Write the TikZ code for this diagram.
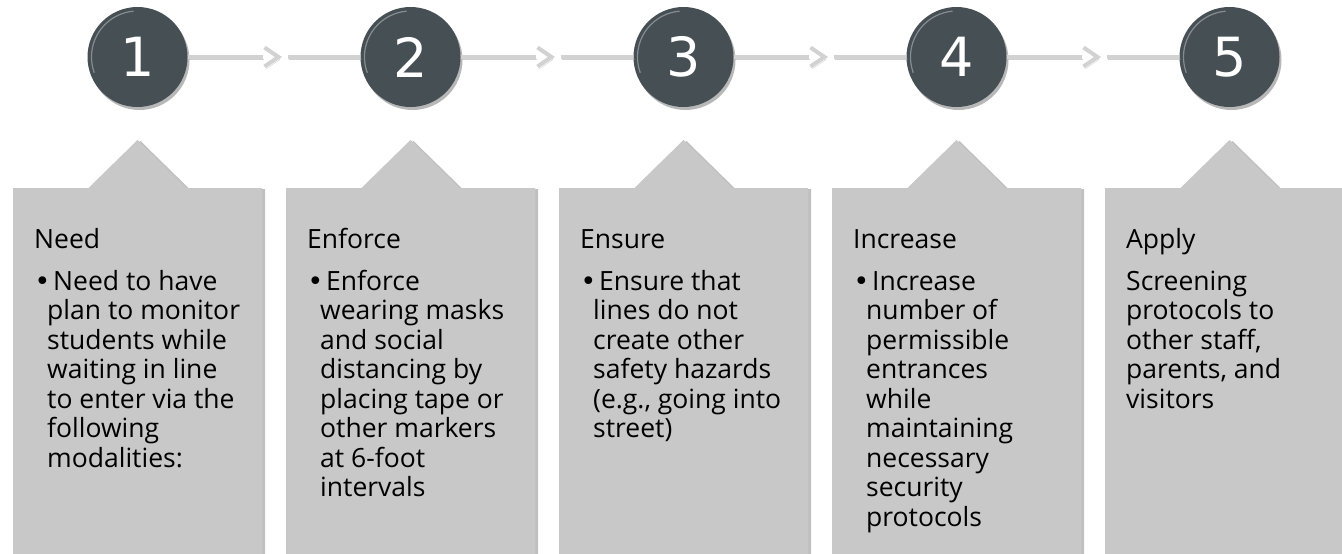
\documentclass[tikz,border=0pt]{standalone}
\usepackage{fontspec}
\setmainfont{Open Sans}
\newfontfamily\digitfont{DejaVu Sans}
\usetikzlibrary{shadows,calc}
\definecolor{boxgray}{RGB}{200,200,200}
\definecolor{circfill}{RGB}{70,79,84}
\definecolor{linegray}{RGB}{210,210,210}
\tikzset{
  callout/.style={fill=boxgray, drop shadow={shadow xshift=3pt, shadow yshift=-1pt, opacity=0.35, fill=black!70}},
  stepcirc/.style={circle, minimum size=100pt, inner sep=0pt, fill=circfill, text=white,
     font=\digitfont\fontsize{54}{60}\selectfont,
     drop shadow={shadow xshift=2pt, shadow yshift=-3pt, opacity=0.35, fill=black!80}},
  conn/.style={line width=4pt, draw=linegray,
     preaction={draw=black!40, opacity=0.45, transform canvas={shift={(1.5pt,-2.5pt)}}}},
  headtext/.style={anchor=base west, inner sep=0pt, text=black, font=\fontsize{26.5}{29.5}\selectfont},
  bodytext/.style={anchor=north west, inner sep=0pt, align=left, text=black, font=\fontsize{26.5}{29.5}\selectfont},
  gloss/.style={draw=white, opacity=0.35, line width=1.2pt}
}
\newcommand{\bul}{\hspace*{6pt}\llap{{\digitfont\textbullet}\hspace{3pt}}}
\begin{document}
\begin{tikzpicture}[x=1pt,y=-1pt]
\useasboundingbox (0,0) rectangle (1342,554);
\clip (0,0) rectangle (1342,554);
\fill[white] (0,0) rectangle (1342,554);

% callout boxes
\foreach \L/\C in {13/137.5, 286/410.5, 559/683.5, 832/956.5, 1105/1229.5}{
  \fill[callout] (\L,556) -- (\L,188) -- (\C-49,188) -- (\C,140) -- (\C+49,188)
     -- (\L+249,188) -- (\L+249,556) -- cycle;
}

% step circles
\node[stepcirc] (c1) at (137.5,57) {1};
\node[stepcirc] (c2) at (410.5,57) {2};
\node[stepcirc] (c3) at (683.5,57) {3};
\node[stepcirc] (c4) at (956.5,57) {4};
\node[stepcirc] (c5) at (1229.5,57) {5};
\foreach \n in {c1,c2,c3,c4,c5}{
  \draw[gloss] ($(\n.center)+(200:46pt)$) arc[start angle=200, end angle=95, radius=46pt];
}

% connectors with chevrons
\foreach \a/\b/\X in {c1/c2/137.5, c2/c3/410.5, c3/c4/683.5, c4/c5/956.5}{
  \coordinate (p\a) at (\X+125,57);
  \coordinate (t\a) at (\X+141,57);
  \coordinate (q\a) at (\X+150,57);
  \draw[conn] (\a.east) -- (p\a);
  \draw[conn, line join=miter] ($(t\a)+(-14,-9.5)$) -- (t\a) -- ($(t\a)+(-14,9.5)$);
  \draw[conn] (q\a) -- (\b.west);
}

% texts
\node[headtext] (h1) at (34,248) {Need};
\node[bodytext] (b1) at (47,269.35) {\strut\bul Need to have\\plan to monitor\\students while\\waiting in line\\to enter via the\\following\\modalities:};

\node[headtext] (h2) at (307,248) {Enforce};
\node[bodytext] (b2) at (320,269.35) {\strut\bul Enforce\\wearing masks\\and social\\distancing by\\placing tape or\\other markers\\at 6-foot\\intervals};

\node[headtext] (h3) at (580,248) {Ensure};
\node[bodytext] (b3) at (593,269.35) {\strut\bul Ensure that\\lines do not\\create other\\safety hazards\\(e.g., going into\\street)};

\node[headtext] (h4) at (853,248) {Increase};
\node[bodytext] (b4) at (866,269.35) {\strut\bul Increase\\number of\\permissible\\entrances\\while\\maintaining\\necessary\\security\\protocols};

\node[headtext] (h5) at (1126,248) {Apply};
\node[bodytext] (b5) at (1126,269.35) {\strut Screening\\protocols to\\other staff,\\parents, and\\visitors};
\end{tikzpicture}
\end{document}
